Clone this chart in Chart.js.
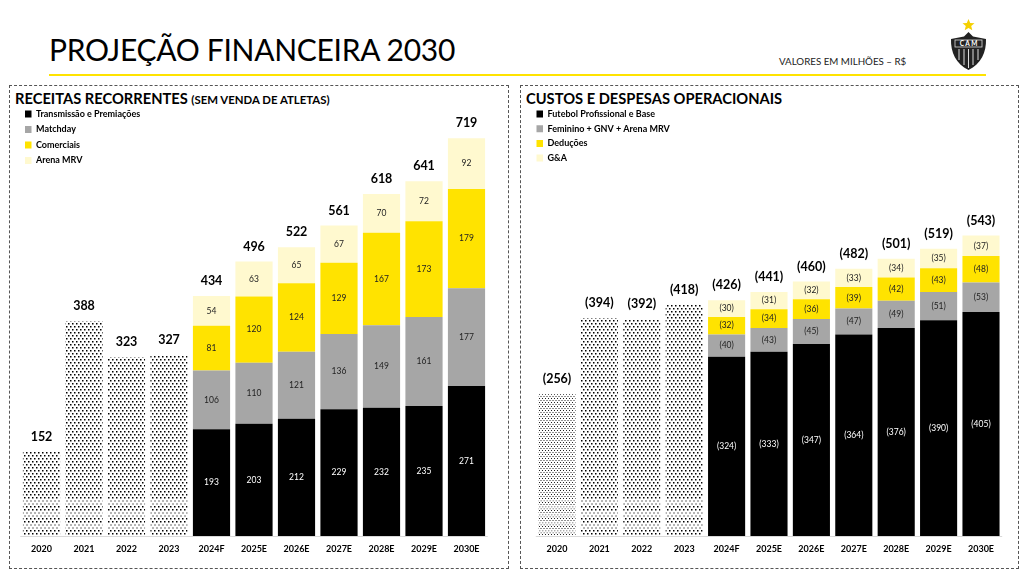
<!DOCTYPE html>
<html lang="pt">
<head>
<meta charset="utf-8">
<title>Projeção Financeira 2030</title>
<script src="https://cdn.jsdelivr.net/npm/chart.js@4"></script>
<style>
  html, body { margin: 0; background: #fff; }
  body { position: relative; width: 1035px; height: 578px; overflow: hidden; font-family: Lato, sans-serif; color: #000; }
  .abs { position: absolute; white-space: nowrap; }
  #title { left: 49px; top: 28px; font-size: 30px; line-height: 42px; letter-spacing: -0.3px; }
  #rule { left: 49px; top: 74px; width: 937px; height: 2px; background: #ffe300; }
  #unit { left: 779px; top: 54px; font-size: 9.75px; line-height: 14px; color: #222; }
  .panel { position: absolute; top: 85px; height: 482px; border: 1px dashed #555; }
  .head { font-weight: 700; font-size: 14.7px; line-height: 20px; top: 88px; }
  .head small { font-size: 11.4px; }
  canvas { display: block; }
  .wrap { position: absolute; top: 86px; height: 482px; }
</style>
</head>
<body>
<div class="abs" id="title">PROJEÇÃO FINANCEIRA 2030</div>
<div class="abs" id="rule"></div>
<div class="abs" id="unit">VALORES EM MILHÕES – R$</div>
<svg class="abs" style="left:950px;top:18px" width="38" height="54" viewBox="0 0 38 54">
  <polygon points="18.5,1 20.2,5 24.5,5.3 21.2,8 22.3,12.2 18.5,10 14.7,12.2 15.8,8 12.5,5.3 16.8,5" fill="#f5d000"/>
  <path d="M18.5 14 L23 18.5 L36 21 C36.5 34 31 46 18.5 52 C6 46 .5 34 1 21 L14 18.5 Z" fill="#222"/>
  <rect x="5" y="22" width="27" height="7" fill="#222" stroke="#ddd" stroke-width=".8"/>
  <text x="18.5" y="28" font-size="6.5" font-weight="700" fill="#fff" text-anchor="middle" font-family="Lato">C A M</text>
  <path d="M9 31V42M14 31V47M18.5 31V50M23 31V47M28 31V42" stroke="#ddd" stroke-width="1"/>
</svg>

<div class="panel" style="left:9px;width:498px"></div>
<div class="panel" style="left:520px;width:497px"></div>
<div class="abs head" style="left:15px">RECEITAS RECORRENTES <small>(SEM VENDA DE ATLETAS)</small></div>
<div class="abs head" style="left:526px">CUSTOS E DESPESAS OPERACIONAIS</div>

<div class="wrap" style="left:10px;width:498px"><canvas id="receitas" width="498" height="482"></canvas></div>
<div class="wrap" style="left:521px;width:497px"><canvas id="custos" width="497" height="482"></canvas></div>

<script>
const years = ['2020', '2021', '2022', '2023', '2024F', '2025E', '2026E', '2027E', '2028E', '2029E', '2030E'];

// receitas
const receitasTotal = [152, 388, 323, 327, 434, 496, 522, 561, 618, 641, 719];
const receitasHistBase = [65, 65, 65, 65, null, null, null, null, null, null, null]; // faixa cinza, estimada
const receitasHistResto = [87, 323, 258, 262, null, null, null, null, null, null, null];
const transmissao = [null, null, null, null, 193, 203, 212, 229, 232, 235, 271];
const matchday = [null, null, null, null, 106, 110, 121, 136, 149, 161, 177];
const comerciais = [null, null, null, null, 81, 120, 124, 129, 167, 173, 179];
const arenaMrv = [null, null, null, null, 54, 63, 65, 67, 70, 72, 92];

// custos
const custosTotal = [256, 394, 392, 418, 426, 441, 460, 482, 501, 519, 543];
const custosHistBase = [65, 65, 65, 65, null, null, null, null, null, null, null];
const custosHistResto = [191, 329, 327, 353, null, null, null, null, null, null, null];
const futebol = [null, null, null, null, 324, 333, 347, 364, 376, 390, 405];
const feminino = [null, null, null, null, 40, 43, 45, 47, 49, 51, 53];
const deducoes = [null, null, null, null, 32, 34, 36, 39, 42, 43, 48];
const gea = [null, null, null, null, 30, 31, 32, 33, 34, 35, 37];

const PRETO = '#000000', CINZA = '#a6a6a6', AMARELO = '#ffe300', CREME = '#fff9cf';

// hachura pontilhada dos anos realizados
function pattern(w, h, pontos) {
  const c = document.createElement('canvas');
  c.width = w; c.height = h;
  const g = c.getContext('2d');
  pontos.forEach(p => {
    g.fillStyle = p[2];
    g.fillRect(p[0], p[1], p[3], p[3]);
  });
  return g.createPattern(c, 'repeat');
}

const pontoResto = pattern(4, 6, [[0, 0, '#000', 1.5], [2, 3, '#000', 1.5]]);
const pontoBase = pattern(4, 12, [[0, 0, '#000', 1.5], [2, 3, '#000', 1.5], [0, 6, '#b5b5b5', 2], [2, 9, '#b5b5b5', 2]]);
const pontoFino = pattern(3, 4, [[0, 0, '#222', 1], [1.5, 2, '#222', 1]]);
const pontoFinoBase = pattern(3, 8, [[0, 0, '#222', 1], [1.5, 2, '#222', 1], [0, 4, '#aaa', 1.4], [1.5, 6, '#aaa', 1.4]]);

// escreve os valores dentro das barras e o total em cima
const rotulos = {
  id: 'rotulos',
  afterLayout(chart, args, opts) {
    chart.legend.left = opts.legenda[0];
    chart.legend.top = opts.legenda[1];
  },
  afterDatasetsDraw(chart, args, opts) {
    const { ctx, scales } = chart;
    const fmt = v => opts.parens ? '(' + v + ')' : String(v);
    ctx.save();
    ctx.textAlign = 'center';
    ctx.textBaseline = 'middle';
    ctx.font = '8.5px Lato';
    chart.data.datasets.forEach((ds, i) => {
      if (ds.hist) return;
      chart.getDatasetMeta(i).data.forEach((bar, j) => {
        if (ds.data[j] == null) return;
        ctx.fillStyle = ds.backgroundColor === PRETO ? '#fff' : '#222';
        ctx.fillText(fmt(ds.data[j]), bar.x, (bar.y + bar.base) / 2);
      });
    });
    ctx.font = '700 12.5px Lato';
    ctx.fillStyle = '#000';
    opts.totais.forEach((v, j) => {
      ctx.fillText(fmt(v), scales.x.getPixelForValue(j), scales.y.getPixelForValue(v) - 15);
    });
    // linha de base
    ctx.strokeStyle = '#d9d9d9';
    ctx.beginPath();
    ctx.moveTo(scales.x.left, scales.y.bottom + 0.5);
    ctx.lineTo(scales.x.right, scales.y.bottom + 0.5);
    ctx.stroke();
    ctx.restore();
  }
};

function grafico(id, series, totais, conf) {
  const sets = [
    { label: 'hist base', hist: true, data: series[0], backgroundColor: conf.base },
    { label: 'hist', hist: true, data: series[1], backgroundColor: conf.resto }
  ];
  series[2].forEach(s => sets.push({ label: s.nome, data: s.valores, backgroundColor: s.cor }));
  sets.forEach(s => { s.stack = 'a'; s.barPercentage = 0.875; s.categoryPercentage = 1; });

  return new Chart(document.getElementById(id), {
    type: 'bar',
    data: { labels: years, datasets: sets },
    plugins: [rotulos],
    options: {
      responsive: false,
      animation: false,
      layout: { padding: { left: conf.pad[0], right: conf.pad[1], top: 19, bottom: 0 } },
      scales: {
        x: {
          stacked: true,
          grid: { display: false },
          border: { display: false },
          ticks: { color: '#000', font: { family: 'Lato', size: 9, weight: '700' }, padding: 0, maxRotation: 0, autoSkip: false },
          afterFit(scale) { scale.height = 32; }
        },
        y: { stacked: true, display: false, min: 0, max: 779 }
      },
      plugins: {
        tooltip: { enabled: false },
        rotulos: { totais: totais, parens: conf.parens, legenda: conf.legenda },
        legend: {
          position: 'chartArea',
          align: 'start',
          labels: {
            filter: item => !item.text.startsWith('hist'),
            boxWidth: 6.5,
            boxHeight: 7,
            padding: conf.espaco,
            color: '#000',
            font: { family: 'Lato', size: 9, weight: '700' }
          }
        }
      }
    }
  });
}

grafico('receitas', [receitasHistBase, receitasHistResto, [
  { nome: 'Transmissão e Premiações', valores: transmissao, cor: PRETO },
  { nome: 'Matchday', valores: matchday, cor: CINZA },
  { nome: 'Comerciais', valores: comerciais, cor: AMARELO },
  { nome: 'Arena MRV', valores: arenaMrv, cor: CREME }
]], receitasTotal, {
  parens: false, pad: [10.25, 20.25], espaco: 6.5, legenda: [8.5, 17],
  base: pontoBase, resto: pontoResto
});

grafico('custos', [custosHistBase, custosHistResto, [
  { nome: 'Futebol Profissional e Base', valores: futebol, cor: PRETO },
  { nome: 'Feminino + GNV + Arena MRV', valores: feminino, cor: CINZA },
  { nome: 'Deduções', valores: deducoes, cor: AMARELO },
  { nome: 'G&A', valores: gea, cor: CREME }
]], custosTotal, {
  parens: true, pad: [14.8, 15.8], espaco: 5.7, legenda: [9.8, 17.8],
  base: [pontoFinoBase, pontoBase, pontoBase, pontoBase],
  resto: [pontoFino, pontoResto, pontoResto, pontoResto]
});
</script>
</body>
</html>
